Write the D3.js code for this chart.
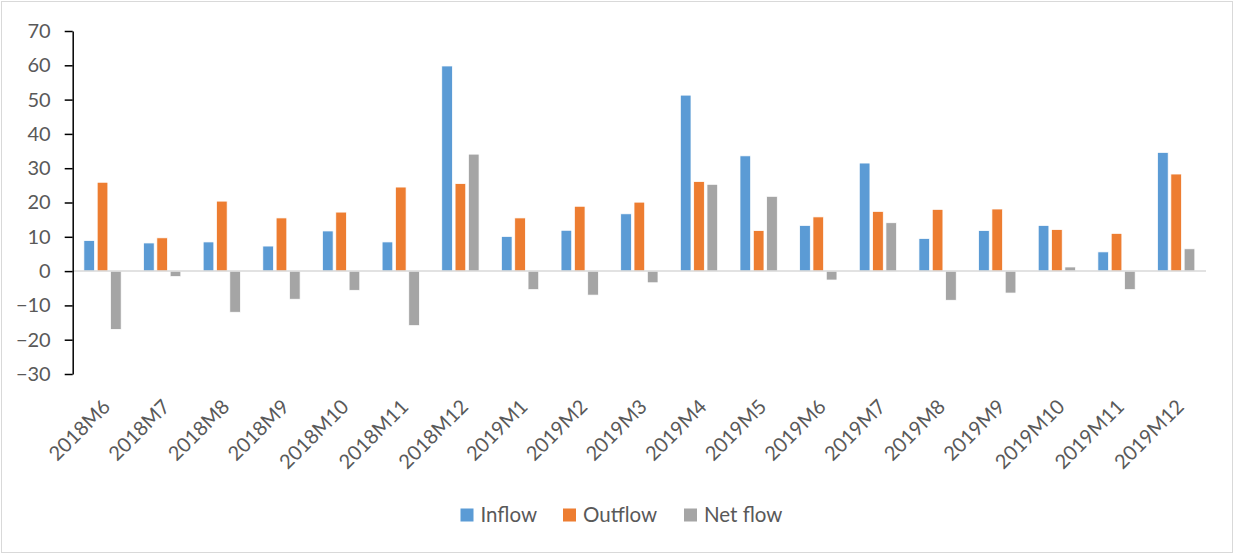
<!DOCTYPE html>
<html>
<head>
<meta charset="utf-8">
<script src="https://cdn.jsdelivr.net/npm/d3@7"></script>
<style>
  html, body { margin: 0; padding: 0; background: #fff; }
  svg { display: block; }
  text { font-family: Lato, "Open Sans", sans-serif; fill: #595959; }
</style>
</head>
<body>
<svg id="chart" width="1234" height="554"></svg>
<script>
const categories = ["2018M6","2018M7","2018M8","2018M9","2018M10","2018M11","2018M12",
  "2019M1","2019M2","2019M3","2019M4","2019M5","2019M6","2019M7","2019M8","2019M9",
  "2019M10","2019M11","2019M12"];
const seriesNames = ["Inflow","Outflow","Net flow"];
const inflow  = [8.9, 8.2, 8.5, 7.3, 11.7, 8.5, 59.8, 10.1, 11.9, 16.7, 51.3, 33.6, 13.3, 31.5, 9.5, 11.8, 13.3, 5.6, 34.6];
const outflow = [25.9, 9.7, 20.4, 15.5, 17.2, 24.5, 25.5, 15.5, 18.9, 20.1, 26.1, 11.8, 15.8, 17.4, 18.0, 18.1, 12.1, 11.0, 28.3];
const netflow = [-17.0, -1.6, -12.0, -8.2, -5.6, -15.9, 34.1, -5.4, -7.0, -3.4, 25.3, 21.8, -2.6, 14.1, -8.5, -6.4, 1.2, -5.4, 6.5];
const yTicks = [-30, -20, -10, 0, 10, 20, 30, 40, 50, 60, 70];
const colors = ["#5B9BD5", "#ED7D31", "#A5A5A5"];

(function () {
const svg = d3.select("#chart");
const W = 1234, H = 554;

// outer border
svg.append("rect").attr("x", 1.5).attr("y", 1.5).attr("width", W - 3).attr("height", H - 3)
  .attr("fill", "#fff").attr("stroke", "#d9d9d9").attr("stroke-width", 1);

const mLeft = 72.7, mRight = 1206, mTop = 31, mBottom = 374;

const y = d3.scaleLinear().domain([-30, 70]).range([mBottom, mTop]);
const x0 = d3.scaleBand().domain(categories).range([mLeft, mRight]).paddingInner(0.33).paddingOuter(0.165);
const x1 = d3.scaleBand().domain(seriesNames).range([0, x0.bandwidth()]).paddingInner(0.2).paddingOuter(0.1);

const data = categories.map((c, i) => ({ cat: c, vals: [inflow[i], outflow[i], netflow[i]] }));

const groups = svg.append("g").selectAll("g").data(data).join("g")
  .attr("transform", d => `translate(${x0(d.cat)},0)`);
groups.selectAll("rect").data(d => d.vals.map((v, k) => ({ s: seriesNames[k], v, k })))
  .join("rect")
  .attr("x", d => x1(d.s))
  .attr("width", x1.bandwidth())
  .attr("y", d => y(Math.max(0, d.v)))
  .attr("height", d => Math.abs(y(d.v) - y(0)))
  .attr("fill", d => colors[d.k])
  .attr("stroke", "#fff").attr("stroke-width", 0.75);

// zero line
svg.append("line").attr("x1", mLeft).attr("x2", mRight).attr("y1", y(0)).attr("y2", y(0))
  .attr("stroke", "#d9d9d9").attr("stroke-width", 1.5);

// y axis
const yAxis = svg.append("g").attr("transform", `translate(${mLeft},0)`)
  .call(d3.axisLeft(y).tickValues(yTicks).tickSize(8).tickPadding(14).tickSizeOuter(0));
yAxis.select(".domain").attr("stroke", "#000").attr("stroke-width", 1.5);
yAxis.selectAll(".tick line").attr("stroke", "#000").attr("stroke-width", 1.5);
yAxis.selectAll(".tick text").attr("font-size", "20px").attr("fill", "#595959")
  .style("font-family", "Lato, 'Open Sans', sans-serif");

// x labels
svg.append("g").selectAll("text").data(categories).join("text")
  .attr("transform", d => `translate(${x0(d) + x0.bandwidth() / 2 + 4},${mBottom + 29}) rotate(-45)`)
  .attr("text-anchor", "end")
  .attr("dy", "0.35em")
  .attr("font-size", "20px")
  .text(d => d);

// legend
const legendItems = [
  { name: "Inflow", x: 460.5 },
  { name: "Outflow", x: 563 },
  { name: "Net flow", x: 684 }
];
const lg = svg.append("g");
legendItems.forEach((it, k) => {
  lg.append("rect").attr("x", it.x).attr("y", 508.5).attr("width", 13).attr("height", 13)
    .attr("fill", colors[k]);
  lg.append("text").attr("x", it.x + 20).attr("y", 515).attr("dy", "0.35em")
    .attr("font-size", "20.5px").text(it.name);
});
})();
</script>
</body>
</html>
